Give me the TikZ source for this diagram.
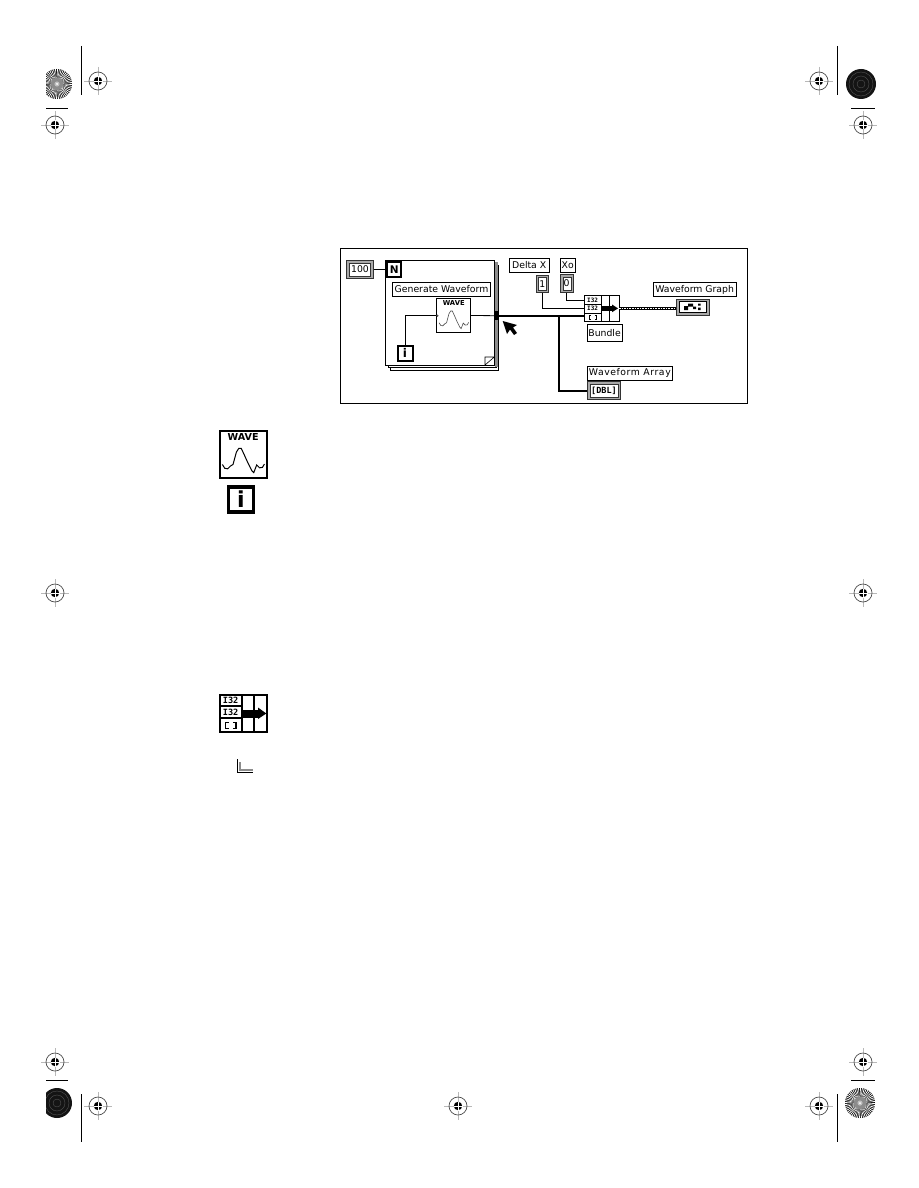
\documentclass[tikz,border=0pt]{standalone}
\usepackage{fontspec}
\setmainfont{DejaVu Sans}
\newfontfamily\monobold{DejaVu Sans Mono Bold}
\usetikzlibrary{calc}
\definecolor{midgrey}{gray}{0.55}
\definecolor{softgrey}{gray}{0.72}
\tikzset{
  x=1pt,y=-1pt,
  textbox/.style={draw=black,line width=0.8pt,fill=white,inner sep=0pt,font=\fontsize{9.3}{10}\selectfont},
  ctlouter/.style={draw=black!80,fill=midgrey!75,line width=0.6pt,inner sep=0pt},
  ctlinner/.style={draw=black!80,fill=white,line width=0.4pt,inner sep=0pt,font=\fontsize{9.3}{10}\selectfont},
  blackframe/.style={draw=black,line width=2pt,fill=white,inner sep=0pt},
  termbox/.style={draw=black,line width=0.8pt,fill=white,inner sep=0pt},
  thinwire/.style={draw=black,line width=0.8pt},
  thickwire/.style={draw=black,line width=2pt},
  croprule/.style={draw=black,line width=0.8pt},
}
% Press registration target
\newcommand{\regmark}[2]{%
  \begin{scope}[shift={(#1,#2)}]
    \draw[softgrey,line width=0.9pt] (-14,0) -- (14,0) (0,-14) -- (0,14);
    \draw[black!70,line width=0.7pt] (0,0) circle[radius=9];
    \fill[black] (0,0) circle[radius=4.2];
    \draw[white,line width=0.7pt] (-4.5,0) -- (4.5,0) (0,-4.5) -- (0,4.5);
  \end{scope}}
% Light colour-bar disc with radial rays; the third argument trims its left side
\newcommand{\raydisc}[3]{%
  \begin{scope}
    \clip (#1,#2) ++(#3,-16) rectangle ++(40,32);
    \fill[black] (#1,#2) circle[radius=15];
    \foreach \a in {0,7.5,...,352.5}{
      \fill[white] (#1,#2) -- ++(\a:15) arc[start angle=\a,delta angle=3.4,radius=15] -- cycle;
    }
    \fill[black!45] (#1,#2) circle[radius=6];
    \fill[black!25] (#1,#2) circle[radius=2.6];
    \fill[white] (#1,#2) circle[radius=1];
  \end{scope}}
% Dark colour-bar disc with faint rings; the third argument trims its left side
\newcommand{\ringdisc}[3]{%
  \begin{scope}
    \clip (#1,#2) ++(#3,-16) rectangle ++(40,32);
    \fill[black!92] (#1,#2) circle[radius=15];
    \foreach \r in {4,8,12}{
      \draw[black!65,line width=0.35pt] (#1,#2) circle[radius=\r];
    }
  \end{scope}}
% Damped pulse drawn inside a unit square
\newcommand{\pulse}{(.07,.71) -- (.12,.79) -- (.18,.80) -- (.24,.74) -- (.29,.71) -- (.36,.45) -- (.41,.37) -- (.46,.37) -- (.52,.50) -- (.60,.68) -- (.68,.84) -- (.72,.88) -- (.78,.72) -- (.84,.78) -- (.90,.77) -- (.94,.70)}
\begin{document}
\begin{tikzpicture}
\useasboundingbox (0,0) rectangle (918,1188);
\fill[white] (0,0) rectangle (918,1188);

% Crop marks and colour bars
\draw[croprule] (81.5,46) -- (81.5,95) (46,108) -- (68,108);
\draw[croprule] (837.5,46) -- (837.5,95) (851,108) -- (875,108);
\draw[croprule] (46,1080) -- (68,1080) (81.5,1094) -- (81.5,1142);
\draw[croprule] (851,1080) -- (875,1080) (837.5,1094) -- (837.5,1142);
\raydisc{57}{84}{-11}
\ringdisc{861}{84}{-16}
\ringdisc{57}{1103}{-11}
\raydisc{860}{1103}{-16}
\regmark{98}{81}
\regmark{55}{125}
\regmark{819}{81}
\regmark{863}{125}
\regmark{55}{593}
\regmark{863}{593}
\regmark{55}{1062}
\regmark{98}{1106}
\regmark{458}{1106}
\regmark{819}{1106}
\regmark{863}{1062}

% Block diagram frame
\draw[black,line width=0.9pt] (340,248) rectangle (747,403.5);

% For loop, shown as a stack of pages
\draw[black,line width=0.7pt,fill=white] (390,265) rectangle (498,370);
\draw[black,line width=0.7pt,fill=white] (388,263) rectangle (496,367.5);
\fill[midgrey] (494.5,262) rectangle (497.5,366.5);
\draw[black,line width=0.8pt,fill=white] (385.7,260.7) rectangle (494.3,365);
\draw[black,line width=0.6pt] (485,365) -- (485,357) -- (494.3,357) (485,365) -- (494.3,357);

% Loop terminals and labels
\node[textbox,minimum width=98.4pt,minimum height=14.4pt] (genlabel) at (441.5,289.5) {Generate Waveform};
\node[blackframe,minimum width=14.5pt,minimum height=14.5pt,font=\bfseries\fontsize{10.5}{11}\selectfont] (nterm) at (394.2,269.5) {N};
\node[blackframe,minimum width=15pt,minimum height=15pt,font=\bfseries\fontsize{12}{12}\selectfont] (iterm) at (405,353) {i};
\node[termbox,minimum width=34pt,minimum height=34.4pt] (wave) at (453.7,315.5) {};
\node[font=\bfseries\fontsize{6.8}{7}\selectfont,inner sep=0pt] (wavetext) at (453.7,302.8) {WAVE};
\begin{scope}[shift={(436.7,298.3)},x=34pt,y=-34.4pt]
  \draw[black!70,line width=0.6pt] \pulse;
\end{scope}
\fill[black!70] (437.4,315.7) circle[radius=1.2];

% Numeric constants
\node[ctlouter,minimum width=26.6pt,minimum height=17.6pt] (countouter) at (360,269.5) {};
\node[ctlinner,minimum width=21pt,minimum height=13pt] (count) at (360,269.5) {100};
\node[textbox,minimum width=40.3pt,minimum height=14pt] (dxlabel) at (529.2,265.3) {Delta X};
\node[ctlouter,minimum width=12.4pt,minimum height=17.7pt] (dxouter) at (542.4,283.8) {};
\node[ctlinner,minimum width=7.5pt,minimum height=12.5pt] (dx) at (542.4,283.8) {1};
\node[textbox,minimum width=15.3pt,minimum height=14pt] (xolabel) at (567.7,265.3) {Xo};
\node[ctlouter,minimum width=13.3pt,minimum height=18.4pt] (xoouter) at (566.7,283.5) {};
\node[ctlinner,minimum width=8pt,minimum height=12.5pt] (xo) at (566.7,283.5) {0};

% Bundle node with its three inputs
\node[termbox,line width=0.9pt,minimum width=34.7pt,minimum height=26pt] (bundle) at (601.6,308.7) {};
\draw[black,line width=0.8pt] (601,295.7) -- (601,321.7) (609.3,295.7) -- (609.3,321.7)
  (584.3,304.3) -- (601,304.3) (584.3,313) -- (601,313);
\node[font=\monobold\fontsize{6}{6}\selectfont,inner sep=0pt] (intop) at (592.6,300.1) {I32};
\node[font=\monobold\fontsize{6}{6}\selectfont,inner sep=0pt] (inmid) at (592.6,308.7) {I32};
\coordinate (inbot) at (584.3,315.7);
\coordinate (intopw) at (584.3,300);
\coordinate (inmidw) at (584.3,308.3);
\draw[black,line width=0.8pt] (591,315.3) -- (589.5,315.3) -- (589.5,319) -- (591,319)
  (594.5,315.3) -- (596,315.3) -- (596,319) -- (594.5,319);
\fill[black] (601.7,306) rectangle (613,310.8);
\fill[black] (612,304.5) -- (618,308.4) -- (612,312.2) -- cycle;
\node[textbox,minimum width=34.7pt,minimum height=16.7pt] (bundlelabel) at (604.6,332.7) {Bundle};

% Graph indicator
\node[textbox,minimum width=82.7pt,minimum height=14.4pt] (graphlabel) at (694.6,289.5) {Waveform Graph};
\node[ctlouter,minimum width=33.3pt,minimum height=16pt] (graph) at (692.7,307) {};
\node[termbox,line width=0.6pt,minimum width=27pt,minimum height=10.7pt] (graphinner) at (692.7,307) {};
\fill[black] (684,306) rectangle (688,310) (688,303.5) rectangle (693,306.5) (693,306.5) rectangle (696,309)
  (698,303.5) rectangle (700.5,305.5) (698,307.5) rectangle (700.5,310);

% Array indicator
\node[textbox,minimum width=85pt,minimum height=14pt] (arraylabel) at (629.8,373) {\addfontfeature{LetterSpace=6}Waveform Array};
\node[ctlouter,minimum width=33.4pt,minimum height=17.6pt] (arrayind) at (604,390.5) {};
\node[termbox,draw=black!80,line width=0.4pt,minimum width=28.5pt,minimum height=13.5pt,font=\monobold\fontsize{8.5}{8.5}\selectfont] (arraytext) at (604,390.5) {[DBL]};

% Wiring
\draw[thinwire] (countouter.east) -- (nterm.west);
\draw[thinwire] (iterm.north) |- (wave.west);
\fill[black] (494,311) rectangle (499,320);
\coordinate (tunnel) at (496.5,315.7);
\draw[thinwire] (wave.east) -- (tunnel);
\draw[thickwire] (tunnel) -- (inbot);
\coordinate (junction) at (559.3,315.7);
\draw[thickwire] (junction) |- (arrayind.west);
\draw[thinwire] (dxouter.south) |- (inmidw);
\draw[thinwire] (xoouter.south) |- (intopw);
\coordinate (bundleout) at (619,308.3);
\draw[black,line width=2.4pt] (bundleout) -- (graph.west |- bundleout);
\draw[white,line width=0.8pt,dash pattern=on 1.6pt off 1pt] (bundleout) -- (graph.west |- bundleout);

% Mouse pointer
\fill[black] (502.7,321) -- (517,325) -- (513,327.5) -- (517,333) -- (514,335) -- (510,329.5) -- (507,334) -- cycle;

% Large WAVE icon
\node[draw=black,line width=1.8pt,fill=white,minimum width=47pt,minimum height=46.5pt,inner sep=0pt] (waveicon) at (243.2,454.5) {};
\node[font=\bfseries\fontsize{9.6}{10}\selectfont,inner sep=0pt] (waveicontext) at (243.2,437.2) {WAVE};
\begin{scope}[shift={(219,430.7)},x=48.3pt,y=-47.6pt]
  \draw[black,line width=1pt] \pulse;
\end{scope}

% Large iteration terminal icon
\node[draw=black,line width=3.6pt,fill=white,minimum width=25pt,minimum height=25pt,inner sep=0pt,font=\bfseries\fontsize{22}{22}\selectfont] (iicon) at (240.8,499.2) {i};

% Large Bundle icon
\node[draw=black,line width=2pt,fill=white,minimum width=47pt,minimum height=37pt,inner sep=0pt] (bundleicon) at (243.2,713.5) {};
\draw[black,line width=1.8pt] (242.3,694.3) -- (242.3,732.7) (254.3,694.3) -- (254.3,732.7)
  (219,705.7) -- (242.3,705.7) (219,718.3) -- (242.3,718.3);
\node[font=\monobold\fontsize{8.6}{8.6}\selectfont,inner sep=0pt] (iconi1) at (230.6,700.4) {I32};
\node[font=\monobold\fontsize{8.6}{8.6}\selectfont,inner sep=0pt] (iconi2) at (230.6,712.4) {I32};
\draw[black,line width=1.4pt] (228.5,722.5) -- (225.5,722.5) -- (225.5,728.5) -- (228.5,728.5)
  (233,722.5) -- (236,722.5) -- (236,728.5) -- (233,728.5);
\fill[black] (243,709.5) rectangle (259,717.5);
\fill[black] (258,707.5) -- (266.3,713.5) -- (258,719) -- cycle;

% Small corner glyph
\draw[black,line width=1.4pt] (237.5,759) -- (237.5,772.5) -- (252.7,772.5);
\draw[midgrey,line width=1.8pt] (239.8,762) -- (239.8,770.3) -- (252.7,770.3);
\end{tikzpicture}
\end{document}
